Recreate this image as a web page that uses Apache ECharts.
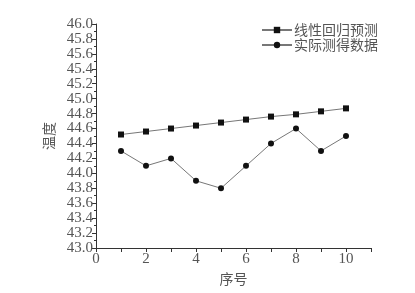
<!DOCTYPE html>
<html><head><meta charset="utf-8">
<script src="https://cdn.jsdelivr.net/npm/echarts@6/dist/echarts.min.js"></script>
<style>html,body{margin:0;padding:0;background:#fff}#c{width:415px;height:293px}</style>
</head><body><div id="c"></div>
<script>
const xValues = [1,2,3,4,5,6,7,8,9,10];
const predicted = [44.52,44.56,44.60,44.64,44.68,44.72,44.76,44.79,44.83,44.87];
const measured = [44.3,44.1,44.2,43.9,43.8,44.1,44.4,44.6,44.3,44.5];
const seriesNames = ['线性回归预测','实际测得数据'];
const xTitle = '序号';
const yTitle = '温度';

const font = '"Liberation Serif","Noto Sans CJK SC",serif';
const cjk = '"Noto Sans CJK SC",sans-serif';
const chart = echarts.init(document.getElementById('c'));
chart.setOption({
  animation:false,
  backgroundColor:'#fff',
  grid:{left:96,right:44,top:24,bottom:45},
  legend:{
    orient:'vertical', left:256, top:18, itemGap:1, itemWidth:30, itemHeight:8,
    textStyle:{fontFamily:cjk,fontSize:14,color:'#555',padding:[0,0,0,-3]},
    data:seriesNames
  },
  xAxis:{
    type:'value', min:0, max:11, interval:1,
    name:xTitle, nameLocation:'middle', nameGap:23,
    nameTextStyle:{fontFamily:cjk,fontSize:14,color:'#555'},
    axisLine:{lineStyle:{color:'#333',width:1}},
    axisTick:{show:true,length:4,lineStyle:{color:'#333'},interval:0},
    minorTick:{show:false},
    axisLabel:{fontFamily:font,fontSize:15,color:'#555',margin:4,
      formatter:v=> (v%2===0 && v<=10)?String(v):''},
    splitLine:{show:false}
  },
  yAxis:{
    type:'value', min:43, max:46, interval:0.2,
    name:yTitle, nameLocation:'middle', nameGap:36, nameRotate:90,
    nameTextStyle:{fontFamily:cjk,fontSize:14,color:'#555'},
    axisLine:{show:true,lineStyle:{color:'#333',width:1}},
    axisTick:{show:true,length:4,lineStyle:{color:'#333'}},
    minorTick:{show:true,splitNumber:2,length:2,lineStyle:{color:'#333'}},
    axisLabel:{fontFamily:font,fontSize:15,color:'#555',margin:3,
      formatter:v=>v.toFixed(1)},
    splitLine:{show:false}
  },
  series:[
    {name:seriesNames[0],type:'line',data:xValues.map((x,i)=>[x,predicted[i]]),
     symbol:'rect',symbolSize:6,
     lineStyle:{color:'#777',width:1},itemStyle:{color:'#111'}},
    {name:seriesNames[1],type:'line',data:xValues.map((x,i)=>[x,measured[i]]),
     symbol:'circle',symbolSize:6,
     lineStyle:{color:'#777',width:1},itemStyle:{color:'#111'}}
  ]
});
</script></body></html>
